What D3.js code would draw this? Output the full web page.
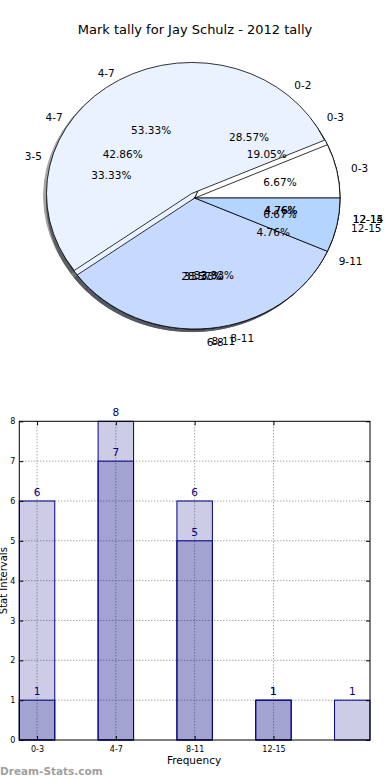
<!DOCTYPE html>
<html>
<head>
<meta charset="utf-8">
<script src="https://cdn.jsdelivr.net/npm/d3@7"></script>
<style>
  body { margin: 0; background: #fff; }
  text { font-family: "DejaVu Sans", sans-serif; }
</style>
</head>
<body>
<div id="canvas"></div>
<script>
// pie drawn last (on top)
const labelsA = ["0-3", "4-7", "8-11", "12-15"];
const valuesA = [1, 8, 5, 1];
// pies underneath
const labelsB = ["0-2", "3-5", "6-8", "9-11", "12-14"];
const valuesB = [6, 7, 6, 1, 1];
const labelsC = ["0-3", "4-7", "8-11", "12-15"];
const valuesC = [4, 9, 7, 1];

// bar chart
const barTicks = ["0-3", "4-7", "8-11", "12-15"];
const barsLight = [6, 7, 6, 1, 1];
const barsDark = [1, 8, 5, 1];
const yTicks = [0, 1, 2, 3, 4, 5, 6, 7, 8];

const sliceColors = ["#ffffff", "#eaf2ff", "#c6d9ff", "#b3d5ff", "#9fc6ff"];

const width = 390;
const height = 780;

const svg = d3.select("#canvas").append("svg")
  .attr("width", width)
  .attr("height", height);

svg.append("text")
  .attr("x", 195)
  .attr("y", 34)
  .attr("text-anchor", "middle")
  .style("font-size", "13px")
  .text("Mark tally for Jay Schulz - 2012 tally");

/* ---------- pies ---------- */
const cx = 194.7, cy = 198, rx = 145.3, ry = 131;
const sy = ry / rx;

// matplotlib style: start at 3 o'clock, counterclockwise
const pie = d3.pie().sort(null)
  .startAngle(Math.PI / 2)
  .endAngle(Math.PI / 2 - 2 * Math.PI);
const arc = d3.arc().innerRadius(0).outerRadius(rx);

const pies = [
  { labels: labelsB, values: valuesB, explode: [] },
  { labels: labelsC, values: valuesC, explode: [] },
  { labels: labelsA, values: valuesA, explode: [0, 0.04, 0, 0] }
];

const mid = (d) => (d.startAngle + d.endAngle) / 2;
const expl = (p, i) => p.explode[i] || 0;

// shadows first, under every wedge
const gShadow = svg.append("g")
  .attr("transform", `translate(${cx - 0.02 * rx}, ${cy + 0.02 * ry}) scale(1, ${sy})`);
const gWedge = svg.append("g")
  .attr("transform", `translate(${cx}, ${cy}) scale(1, ${sy})`);
const gText = svg.append("g");

pies.forEach((p) => {
  const arcs = pie(p.values);
  const shade = (i) => {
    const c = d3.rgb(sliceColors[i % sliceColors.length]);
    return d3.rgb(c.r * 0.3, c.g * 0.3, c.b * 0.3).toString();
  };
  gShadow.selectAll(null).data(arcs).enter()
    .append("path")
    .attr("d", arc)
    .attr("transform", (d, i) => `translate(${expl(p, i) * rx * Math.sin(mid(d))}, ${-expl(p, i) * rx * Math.cos(mid(d))})`)
    .attr("fill", (d, i) => shade(i))
    .attr("stroke", (d, i) => shade(i))
    .attr("vector-effect", "non-scaling-stroke")
    .attr("opacity", 0.5);
});

pies.forEach((p) => {
  const arcs = pie(p.values);
  const total = d3.sum(p.values);

  gWedge.selectAll(null).data(arcs).enter()
    .append("path")
    .attr("d", arc)
    .attr("transform", (d, i) => `translate(${expl(p, i) * rx * Math.sin(mid(d))}, ${-expl(p, i) * rx * Math.cos(mid(d))})`)
    .attr("fill", (d, i) => sliceColors[i % sliceColors.length])
    .attr("stroke", "#000")
    .attr("stroke-width", 0.8)
    .attr("vector-effect", "non-scaling-stroke");

  gText.selectAll(null).data(arcs).enter()
    .append("text")
    .attr("x", (d) => cx + 1.1 * rx * Math.sin(mid(d)))
    .attr("y", (d) => cy - 1.1 * ry * Math.cos(mid(d)))
    .attr("text-anchor", (d) => (Math.sin(mid(d)) > 0 ? "start" : "end"))
    .attr("dominant-baseline", "central")
    .style("font-size", "10.5px")
    .text((d, i) => p.labels[i]);

  gText.selectAll(null).data(arcs).enter()
    .append("text")
    .attr("x", (d) => cx + 0.6 * rx * Math.sin(mid(d)))
    .attr("y", (d) => cy - 0.6 * ry * Math.cos(mid(d)))
    .attr("text-anchor", "middle")
    .attr("dominant-baseline", "central")
    .style("font-size", "10.5px")
    .text((d) => ((d.value / total) * 100).toFixed(2) + "%");
});

/* ---------- bars ---------- */
const margin = { top: 421.3, left: 19.3, right: 20, bottom: 40 };
const iwidth = width - margin.left - margin.right;
const iheight = 740 - margin.top;
const barW = 0.45;

const g = svg.append("g").attr("transform", `translate(${margin.left}, ${margin.top})`);

const x = d3.scaleLinear().domain([0, barsLight.length - 1 + barW]).range([0, iwidth]);
const y = d3.scaleLinear().domain([0, 8]).range([iheight, 0]);

// dotted grid
g.selectAll(null).data(yTicks.slice(1, -1)).enter()
  .append("line")
  .attr("x1", 0).attr("x2", iwidth)
  .attr("y1", (d) => y(d)).attr("y2", (d) => y(d))
  .attr("stroke", "#808080")
  .attr("stroke-dasharray", "1,2");
g.selectAll(null).data(barTicks).enter()
  .append("line")
  .attr("x1", (d, i) => x(i + barW / 2)).attr("x2", (d, i) => x(i + barW / 2))
  .attr("y1", 0).attr("y2", iheight)
  .attr("stroke", "#808080")
  .attr("stroke-dasharray", "1,2");

[barsLight, barsDark].forEach((vals) => {
  g.selectAll(null).data(vals).enter()
    .append("rect")
    .attr("x", (d, i) => x(i))
    .attr("y", (d) => y(d))
    .attr("width", x(barW) - x(0))
    .attr("height", (d) => y(0) - y(d))
    .attr("fill", "rgba(0, 0, 128, 0.2)")
    .attr("stroke", "#000080")
    .attr("stroke-width", 1);
});

[barsLight, barsDark].forEach((vals) => {
  g.selectAll(null).data(vals).enter()
    .append("text")
    .attr("x", (d, i) => x(i + barW / 2))
    .attr("y", (d) => y(d) - 5)
    .attr("text-anchor", "middle")
    .attr("fill", "#000080")
    .style("font-size", "10.5px")
    .text((d) => d);
});

// frame and inward ticks
g.append("rect")
  .attr("width", iwidth).attr("height", iheight)
  .attr("fill", "none").attr("stroke", "#000");

const yAxisL = d3.axisLeft(y).tickValues(yTicks).tickSize(-4).tickPadding(4);
g.append("g").call(yAxisL)
  .call((a) => a.select(".domain").remove())
  .call((a) => a.selectAll("text").style("font-size", "8px").style("font-family", "DejaVu Sans"));
g.append("g").attr("transform", `translate(${iwidth}, 0)`)
  .call(d3.axisRight(y).tickValues(yTicks).tickSize(-4).tickFormat(""))
  .call((a) => a.select(".domain").remove());

const tickPos = barTicks.map((d, i) => i + barW / 2);
g.append("g").attr("transform", `translate(0, ${iheight})`)
  .call(d3.axisBottom(x).tickValues(tickPos).tickSize(-4).tickPadding(6).tickFormat((d, i) => barTicks[i]))
  .call((a) => a.select(".domain").remove())
  .call((a) => a.selectAll("text").style("font-size", "8px").style("font-family", "DejaVu Sans"));
g.append("g")
  .call(d3.axisTop(x).tickValues(tickPos).tickSize(-4).tickFormat(""))
  .call((a) => a.select(".domain").remove());

svg.append("text")
  .attr("x", 194)
  .attr("y", 764)
  .attr("text-anchor", "middle")
  .style("font-size", "10.5px")
  .text("Frequency");

svg.append("text")
  .attr("transform", `translate(6.5, ${margin.top + iheight / 2}) rotate(-90)`)
  .attr("text-anchor", "middle")
  .style("font-size", "10px")
  .text("Stat Intervals");

svg.append("text")
  .attr("x", 0)
  .attr("y", 775)
  .attr("fill", "#a0a0a0")
  .style("font-size", "10.5px")
  .style("font-weight", "bold")
  .text("Dream-Stats.com");
</script>
</body>
</html>
